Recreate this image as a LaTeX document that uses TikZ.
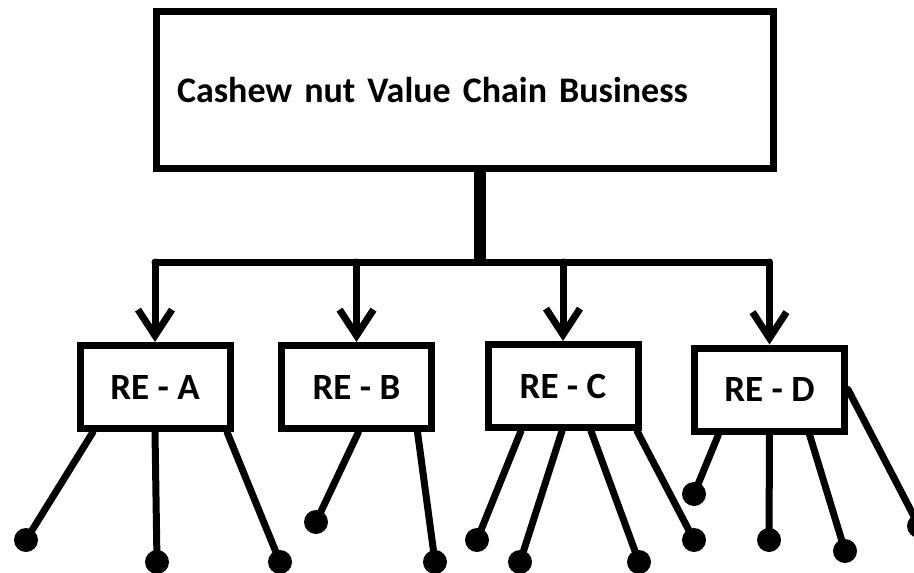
\documentclass[tikz,border=0pt]{standalone}
\usepackage{fontspec}
\setmainfont{Carlito}
\usetikzlibrary{arrows.meta, calc}

\tikzset{
  mainbox/.style={draw, line width=7pt, rectangle, inner sep=0pt,
    minimum width=617pt, minimum height=157pt, text width=576pt, align=left,
    font=\fontsize{36}{42}\selectfont\bfseries},
  rebox/.style={draw, line width=7pt, rectangle, inner sep=0pt,
    minimum width=150pt, minimum height=83pt,
    font=\fontsize{37}{42}\selectfont\bfseries},
  link/.style={line width=7pt, line cap=round, line join=round},
  leaf/.style={circle, fill, inner sep=0pt, minimum size=24pt},
  down/.style={link, -{Straight Barb[length=26pt, width=34pt]}}
}

\begin{document}
\begin{tikzpicture}[x=1pt, y=-1pt]
  \useasboundingbox (0, 0) rectangle (914, 573);

  \node[mainbox] (cvc) at (465, 90) {Cashew nut Value Chain Business};

  \node[rebox] (reA) at (155, 387) {RE - A};
  \node[rebox] (reB) at (356.5, 387) {RE - B};
  \node[rebox] (reC) at (563, 386) {RE - C};
  \node[rebox] (reD) at (769.5, 389.5) {RE - D};

  \coordinate (hub) at (480, 262);
  \draw[line width=12pt] (cvc.south -| hub) -- (hub);
  \draw[link] (reA.north |- hub) -- (reD.north |- hub);
  \foreach \b in {reA, reB, reC, reD}
    \draw[down] (\b.north |- hub) -- (\b.north);

  % end points below the boxes
  \node[leaf] (a1) at (26, 540) {};
  \node[leaf] (a2) at (157, 562) {};
  \node[leaf] (a3) at (280, 562) {};
  \node[leaf] (b1) at (316, 522) {};
  \node[leaf] (b2) at (435, 562) {};
  \node[leaf] (c1) at (477, 540) {};
  \node[leaf] (c2) at (520, 562) {};
  \node[leaf] (c3) at (639, 562) {};
  \node[leaf] (c4) at (694, 540) {};
  \node[leaf] (d1) at (694, 494) {};
  \node[leaf] (d2) at (769, 540) {};
  \node[leaf] (d3) at (845, 551) {};
  \node[leaf] (d4) at (919, 526) {};

  \draw[link] ($(reA.south)+(-62, 0)$) -- (a1.center);
  \draw[link] (reA.south) -- (a2.center);
  \draw[link] ($(reA.south)+(72, 0)$) -- (a3.center);
  \draw[link] ($(reB.south)+(2, 0)$) -- (b1.center);
  \draw[link] ($(reB.south)+(61, 0)$) -- (b2.center);
  \draw[link] ($(reC.south)+(-42, 0)$) -- (c1.center);
  \draw[link] ($(reC.south)+(-1, 0)$) -- (c2.center);
  \draw[link] ($(reC.south)+(28, 0)$) -- (c3.center);
  \draw[link] ($(reC.south)+(74, 0)$) -- (c4.center);
  \draw[link] ($(reD.south)+(-51, 0)$) -- (d1.center);
  \draw[link] (reD.south) -- (d2.center);
  \draw[link] ($(reD.south)+(40, 0)$) -- (d3.center);
  \draw[link] (reD.east) -- (d4.center);
\end{tikzpicture}
\end{document}
